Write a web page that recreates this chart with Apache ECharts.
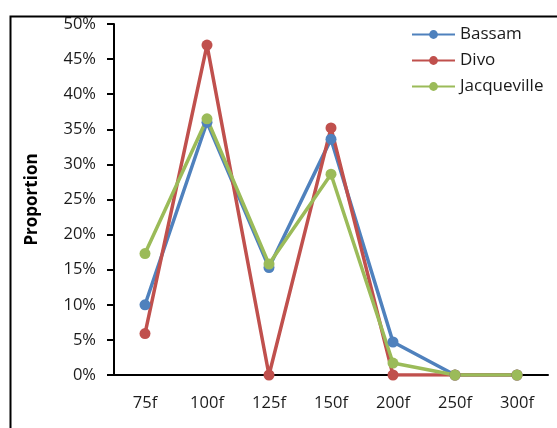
<!DOCTYPE html>
<html>
<head>
<meta charset="utf-8">
<script src="https://cdn.jsdelivr.net/npm/echarts@6/dist/echarts.min.js"></script>
<style>
html, body { margin: 0; padding: 0; background: #fff; }
#chart { width: 557px; height: 428px; }
</style>
</head>
<body>
<div id="chart"></div>
<script>
const categories = ['75f', '100f', '125f', '150f', '200f', '250f', '300f'];
const bassam = [10.0, 36.0, 15.3, 33.6, 4.7, 0, 0];
const divo = [5.9, 47.0, 0, 35.2, 0, 0, 0];
const jacqueville = [17.3, 36.5, 15.8, 28.6, 1.7, 0, 0];

const font = '"Open Sans", "Liberation Sans", sans-serif';
const mkSeries = (name, data, color) => ({
    name, type: 'line', data,
    symbol: 'circle', symbolSize: 11,
    lineStyle: { width: 3.5, color },
    itemStyle: { color },
});

const chart = echarts.init(document.getElementById('chart'));
chart.setOption({
    animation: false,
    textStyle: { fontFamily: font },
    graphic: [{
        type: 'rect', left: 8, top: 14,
        shape: { width: 600, height: 500 },
        style: { fill: 'none', stroke: '#000', lineWidth: 2 },
    }],
    legend: {
        orient: 'vertical', left: 406, top: 21,
        itemWidth: 43, itemHeight: 11, itemGap: 9,
        textStyle: { fontSize: 17, color: '#1a1a1a', fontFamily: font },
        data: ['Bassam', 'Divo', 'Jacqueville'],
    },
    grid: { left: 114, right: 9, top: 24, bottom: 53 },
    xAxis: {
        type: 'category', data: categories,
        axisLine: { lineStyle: { color: '#000', width: 2 } },
        axisTick: { show: false },
        axisLabel: { fontSize: 16.5, color: '#1a1a1a', margin: 20 },
    },
    yAxis: {
        type: 'value', min: 0, max: 50, interval: 5,
        name: 'Proportion', nameLocation: 'middle', nameGap: 73,
        nameTextStyle: { fontSize: 17, fontWeight: 'bold', color: '#000' },
        axisLine: { show: true, lineStyle: { color: '#000', width: 2 } },
        axisTick: { show: true, length: 7, lineStyle: { color: '#000', width: 2 } },
        axisLabel: { formatter: '{value}%', fontSize: 16.5, color: '#1a1a1a', margin: 18 },
        splitLine: { show: false },
    },
    series: [
        mkSeries('Bassam', bassam, '#4F81BD'),
        mkSeries('Divo', divo, '#C0504D'),
        mkSeries('Jacqueville', jacqueville, '#9BBB59'),
    ],
});
</script>
</body>
</html>
